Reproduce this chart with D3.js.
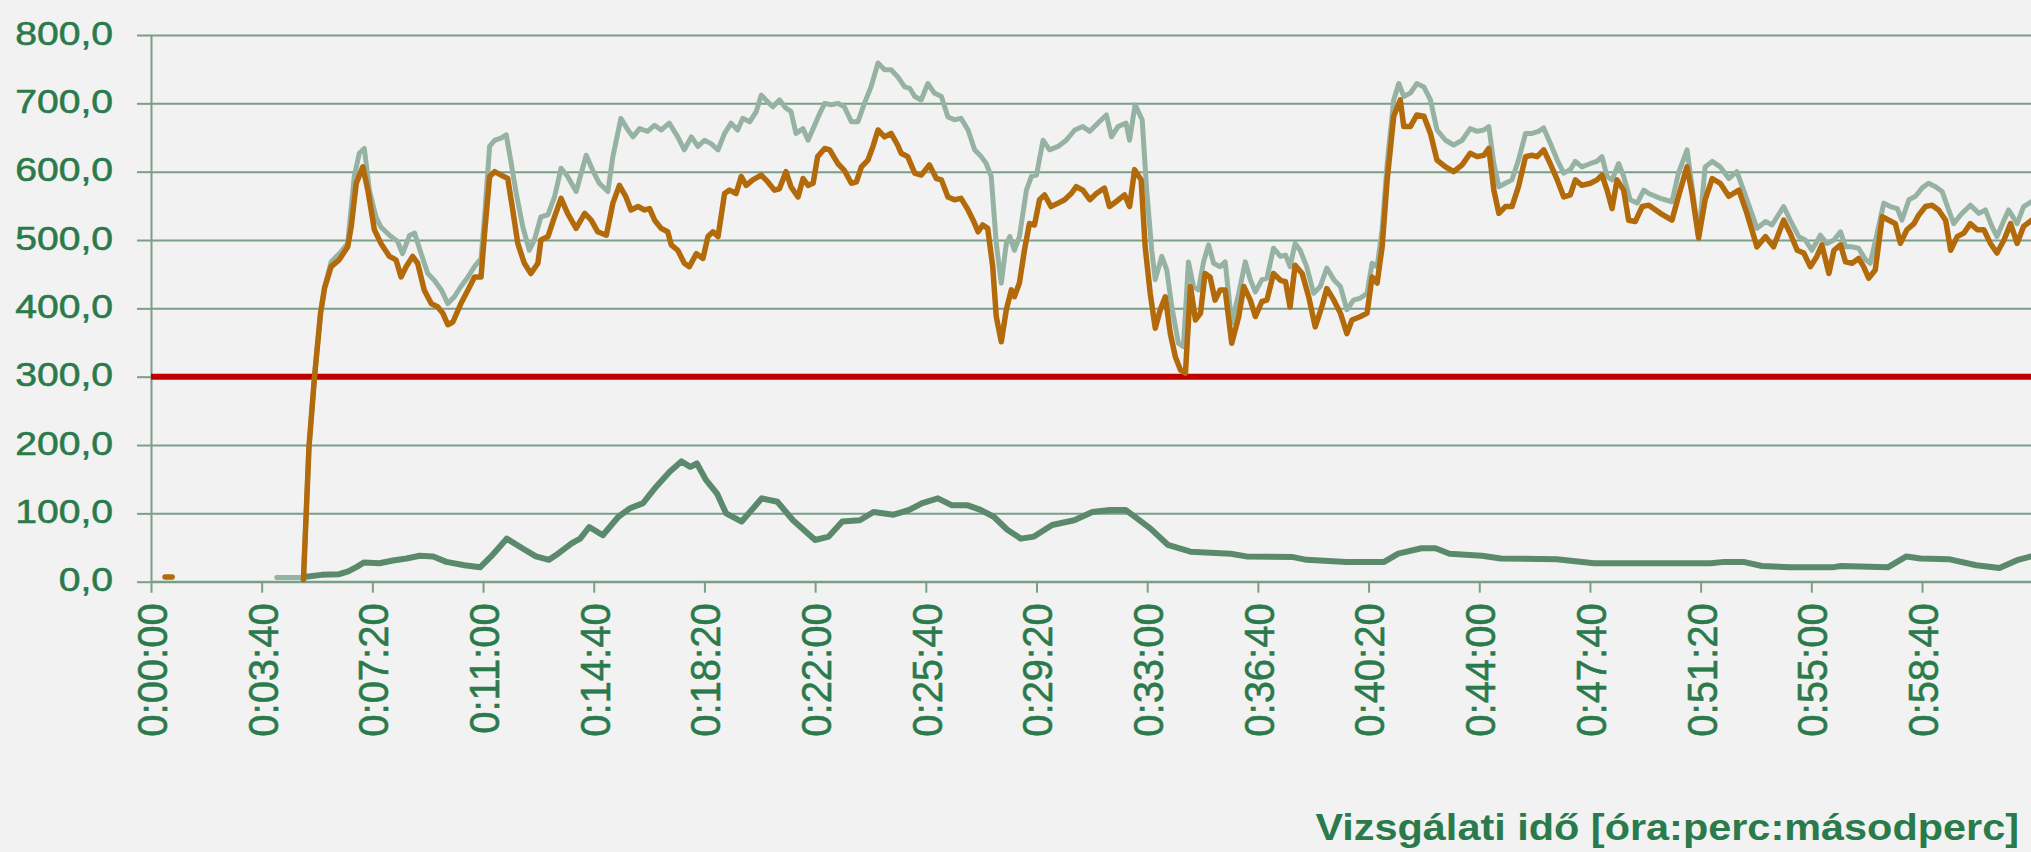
<!DOCTYPE html>
<html>
<head>
<meta charset="utf-8">
<script src="https://cdn.jsdelivr.net/npm/d3@7"></script>
<style>
  html, body { margin: 0; padding: 0; background: #f2f2f2; overflow: hidden; }
  svg { display: block; }
</style>
</head>
<body>
<svg id="chart" width="2031" height="852"></svg>
<script>
// y axis ticks and the limit line
const yTicks = [0, 100, 200, 300, 400, 500, 600, 700, 800];
const limitValue = 300;

// x axis tick labels (every 220 s)
const xTickLabels = [
  '0:00:00', '0:03:40', '0:07:20', '0:11:00', '0:14:40', '0:18:20', '0:22:00',
  '0:25:40', '0:29:20', '0:33:00', '0:36:40', '0:40:20', '0:44:00', '0:47:40',
  '0:51:20', '0:55:00', '0:58:40'
];

const axisTitle = 'Vizsgálati idő [óra:perc:másodperc]';

// series as [seconds, value]; null = no data
const orangeSeries = [
  [28,7],[42,7],[55,null],
  [303,3],[314,197],[325,300],[337,393],[345,430],[358,461],[374,471],[391,490],[398,520],[408,583],[421,607],[431,573],[444,515],[457,495],[474,476],[487,471],[497,446],[507,461],[520,476],[530,466],[543,427],[557,407],[570,402],[580,393],[590,376],[600,380],[616,407],[630,427],[643,446],[656,446],[663,510],[673,593],[683,600],[696,595],[709,590],[719,544],[729,495],[742,466],[755,451],[769,466],[775,500],[789,505],[802,534],[815,561],[828,539],[845,517],[862,539],[875,529],[888,512],[905,507],[918,554],[931,580],[944,563],[954,544],[968,549],[981,544],[991,546],[1001,529],[1014,517],[1027,512],[1034,493],[1047,485],[1060,466],[1070,461],[1084,480],[1097,473],[1107,505],[1117,512],[1127,505],[1140,568],[1150,573],[1163,568],[1173,593],[1183,580],[1196,588],[1213,595],[1226,585],[1239,573],[1249,575],[1262,600],[1272,578],[1286,563],[1296,590],[1306,580],[1316,583],[1325,622],[1339,634],[1349,632],[1365,612],[1378,602],[1392,583],[1402,585],[1412,607],[1425,617],[1435,637],[1445,661],[1458,651],[1471,656],[1484,639],[1491,627],[1504,622],[1518,598],[1531,595],[1547,610],[1561,590],[1571,588],[1584,563],[1597,559],[1610,561],[1624,544],[1634,529],[1644,512],[1653,522],[1663,517],[1673,461],[1680,388],[1690,351],[1700,398],[1710,427],[1716,417],[1726,437],[1736,485],[1746,524],[1756,522],[1766,559],[1776,566],[1789,549],[1803,554],[1816,559],[1829,568],[1839,578],[1852,573],[1866,559],[1879,568],[1895,576],[1905,549],[1918,556],[1935,566],[1945,549],[1955,603],[1968,588],[1976,490],[1986,422],[1996,371],[2006,398],[2016,417],[2026,363],[2036,329],[2046,310],[2056,305],[2066,432],[2076,383],[2086,393],[2095,451],[2105,446],[2115,412],[2125,427],[2135,427],[2148,349],[2162,388],[2172,432],[2185,412],[2195,388],[2208,410],[2218,412],[2231,451],[2245,441],[2255,439],[2264,402],[2274,463],[2288,451],[2301,417],[2314,373],[2327,402],[2337,429],[2351,412],[2364,393],[2377,363],[2387,383],[2404,388],[2417,393],[2427,446],[2437,437],[2447,490],[2457,588],[2470,681],[2483,705],[2490,666],[2503,666],[2516,683],[2530,681],[2543,656],[2556,617],[2573,607],[2589,600],[2606,610],[2622,627],[2636,622],[2649,624],[2659,634],[2669,573],[2679,539],[2692,549],[2705,549],[2718,578],[2732,622],[2745,624],[2755,622],[2768,632],[2781,612],[2795,588],[2808,563],[2821,566],[2831,588],[2844,580],[2861,583],[2874,588],[2884,595],[2894,573],[2904,546],[2914,588],[2927,573],[2937,529],[2950,527],[2964,549],[2977,551],[3000,539],[3023,529],[3036,564],[3053,607],[3063,568],[3076,503],[3089,559],[3103,590],[3119,583],[3136,564],[3156,573],[3172,539],[3192,490],[3209,505],[3225,490],[3245,529],[3258,510],[3272,485],[3285,481],[3298,461],[3311,476],[3321,493],[3335,451],[3345,485],[3358,493],[3368,468],[3381,466],[3394,473],[3404,461],[3414,444],[3427,456],[3441,534],[3454,529],[3467,524],[3477,495],[3490,515],[3504,524],[3514,537],[3527,549],[3540,551],[3553,544],[3567,529],[3577,485],[3590,505],[3603,510],[3616,524],[3630,515],[3643,515],[3656,495],[3669,481],[3683,500],[3696,524],[3709,495],[3722,520],[3738,529]
];

const graySeries = [
  [250,6],[303,6],[314,197],[325,300],[337,393],[345,430],[358,468],[378,483],[391,495],[404,593],[414,627],[424,634],[434,573],[447,534],[457,519],[474,507],[490,498],[500,480],[514,507],[524,510],[537,480],[550,451],[563,441],[577,427],[590,407],[603,417],[616,432],[630,446],[643,461],[656,473],[663,534],[673,637],[683,646],[696,649],[706,654],[716,612],[726,568],[739,519],[752,485],[762,500],[775,534],[789,537],[802,563],[815,605],[828,593],[845,571],[865,624],[878,602],[891,583],[908,571],[918,622],[934,678],[948,661],[958,651],[971,663],[987,659],[1001,668],[1014,661],[1030,671],[1047,651],[1060,632],[1074,651],[1087,637],[1100,646],[1113,641],[1127,632],[1140,656],[1153,671],[1166,661],[1176,678],[1190,673],[1203,688],[1213,712],[1226,702],[1236,695],[1249,705],[1262,693],[1272,688],[1282,656],[1296,663],[1306,646],[1319,668],[1329,685],[1339,700],[1352,698],[1365,700],[1378,695],[1392,673],[1405,673],[1418,700],[1431,724],[1445,759],[1458,749],[1471,749],[1484,739],[1498,724],[1508,722],[1518,710],[1531,705],[1544,729],[1557,715],[1571,710],[1584,680],[1597,676],[1610,678],[1624,661],[1637,632],[1650,622],[1660,612],[1670,593],[1680,495],[1690,437],[1700,495],[1707,505],[1716,485],[1726,505],[1740,573],[1750,593],[1760,595],[1773,646],[1786,632],[1803,637],[1819,646],[1836,661],[1852,666],[1866,659],[1882,671],[1899,683],[1909,651],[1922,666],[1938,671],[1945,646],[1956,698],[1970,676],[1979,573],[1989,485],[1996,442],[2009,476],[2019,456],[2029,402],[2042,349],[2052,344],[2062,468],[2072,432],[2082,427],[2092,468],[2102,493],[2112,466],[2125,461],[2135,468],[2148,378],[2162,422],[2175,468],[2185,442],[2195,424],[2208,442],[2218,444],[2231,488],[2245,476],[2255,478],[2264,461],[2274,495],[2284,485],[2297,461],[2311,422],[2324,432],[2337,459],[2351,442],[2364,432],[2377,398],[2390,412],[2404,415],[2417,422],[2427,466],[2437,461],[2447,515],[2457,612],[2470,705],[2480,729],[2490,710],[2503,715],[2516,729],[2530,724],[2543,705],[2556,661],[2573,646],[2589,639],[2606,646],[2622,663],[2636,659],[2649,661],[2659,666],[2669,612],[2679,578],[2692,583],[2705,588],[2718,617],[2732,656],[2745,656],[2758,659],[2768,664],[2781,642],[2795,617],[2808,598],[2821,603],[2831,615],[2844,607],[2861,612],[2874,615],[2884,622],[2894,593],[2904,588],[2917,612],[2927,593],[2940,559],[2954,554],[2967,573],[2977,568],[3000,561],[3023,556],[3036,598],[3053,632],[3063,578],[3076,505],[3089,607],[3103,615],[3119,607],[3136,590],[3152,600],[3172,559],[3192,517],[3209,527],[3222,522],[3245,549],[3258,529],[3275,505],[3288,500],[3301,485],[3318,507],[3331,495],[3345,500],[3358,512],[3368,490],[3381,490],[3394,488],[3408,471],[3417,466],[3431,510],[3444,554],[3457,549],[3471,546],[3480,529],[3494,559],[3507,564],[3520,576],[3533,583],[3547,578],[3560,571],[3573,544],[3583,524],[3597,537],[3616,551],[3633,539],[3646,544],[3659,520],[3669,505],[3683,529],[3692,544],[3709,524],[3722,549],[3738,556]
];

const greenSeries = [
  [303,7],[339,10],[374,11],[392,15],[410,22],[423,28],[454,27],[481,31],[508,34],[534,38],[561,37],[587,29],[623,24],[654,21],[676,37],[707,63],[738,49],[765,37],[791,32],[809,41],[836,56],[853,63],[871,80],[898,68],[929,95],[951,107],[978,115],[1004,139],[1031,161],[1054,176],[1072,168],[1085,173],[1103,149],[1125,129],[1143,100],[1174,88],[1214,122],[1245,117],[1276,90],[1320,61],[1347,66],[1374,88],[1409,90],[1436,102],[1476,98],[1507,105],[1533,115],[1564,122],[1591,112],[1622,112],[1649,105],[1675,95],[1702,76],[1729,63],[1755,66],[1791,83],[1835,90],[1871,102],[1906,105],[1937,105],[1959,93],[1986,78],[2021,54],[2066,44],[2146,41],[2177,37],[2270,36],[2297,32],[2376,29],[2451,29],[2479,41],[2525,49],[2553,49],[2581,41],[2645,38],[2683,34],[2794,33],[2868,27],[3100,27],[3127,29],[3165,29],[3202,23],[3257,21],[3341,21],[3359,23],[3452,21],[3489,37],[3517,34],[3573,33],[3628,24],[3674,20],[3711,32],[3737,37]
];

const colors = {
  text: '#2b7a4b',
  grid: '#7a9e88',
  gray: '#96b2a2',
  orange: '#b26a0b',
  green: '#5a8a6b',
  limit: '#c00000'
};

const W = 2031;
const fontFamily = '"Liberation Sans", Arial, sans-serif';
const svg = d3.select('#chart');

function toSeconds(label) {
  const p = label.split(':').map(Number);
  return p[0] * 3600 + p[1] * 60 + p[2];
}
const xTickSeconds = xTickLabels.map(toSeconds);

const x = d3.scaleLinear().domain([0, 3520]).range([151, 1922]);
const y = d3.scaleLinear().domain([0, 800]).range([581.7, 35]);

const huLocale = d3.formatLocale({ decimal: ',', thousands: ' ', grouping: [3], currency: ['', ''] });
const fmtY = huLocale.format('.1f');

// horizontal gridlines
const grid = svg.append('g')
  .attr('transform', `translate(${x(0)},0)`)
  .call(d3.axisLeft(y).tickValues(yTicks).tickSize(-(W - x(0))).tickSizeOuter(0).tickFormat(''));
grid.select('.domain').remove();
grid.selectAll('line').attr('stroke', colors.grid).attr('stroke-width', 2);

// y axis with labels
const yAxis = svg.append('g')
  .attr('transform', `translate(${x(0)},0)`)
  .call(d3.axisLeft(y).tickValues(yTicks).tickSize(14).tickSizeOuter(0).tickFormat(fmtY));
yAxis.select('.domain').attr('stroke', colors.grid).attr('stroke-width', 2);
yAxis.selectAll('line').attr('stroke', colors.grid).attr('stroke-width', 2);
const yStretch = 1.15;
yAxis.selectAll('text')
  .attr('x', -38 / yStretch)
  .attr('y', 9)
  .attr('dy', 0)
  .attr('transform', `scale(${yStretch},1)`)
  .attr('fill', colors.text)
  .attr('stroke', colors.text)
  .attr('stroke-width', 0.6)
  .style('font-family', fontFamily)
  .style('font-size', '34px');

// x axis
const xAxis = svg.append('g')
  .attr('transform', `translate(0,${y(0)})`)
  .call(d3.axisBottom(x).tickValues(xTickSeconds).tickSize(11).tickSizeOuter(0)
    .tickFormat((d, i) => xTickLabels[i]));
xAxis.select('.domain').attr('d', `M${x(0)},0H${W}`).attr('stroke', colors.grid).attr('stroke-width', 2);
xAxis.selectAll('line').attr('stroke', colors.grid).attr('stroke-width', 2);
xAxis.selectAll('text')
  .attr('x', 0)
  .attr('y', 0)
  .attr('dy', '0.36em')
  .attr('text-anchor', 'end')
  .attr('transform', 'translate(0,21.6) scale(1.07,1) rotate(-90)')
  .attr('fill', colors.text)
  .attr('stroke', colors.text)
  .attr('stroke-width', 0.5)
  .style('font-family', fontFamily)
  .style('font-size', '40px');

// limit line
svg.append('line')
  .attr('x1', x(0)).attr('x2', W)
  .attr('y1', y(limitValue)).attr('y2', y(limitValue))
  .attr('stroke', colors.limit)
  .attr('stroke-width', 6);

const line = d3.line()
  .defined(d => d[1] !== null)
  .x(d => x(d[0]))
  .y(d => y(d[1]));

const seriesList = [
  { data: greenSeries, color: colors.green, width: 6 },
  { data: graySeries, color: colors.gray, width: 5 },
  { data: orangeSeries, color: colors.orange, width: 5.5 }
];

svg.append('g').selectAll('path')
  .data(seriesList)
  .join('path')
  .attr('d', s => line(s.data))
  .attr('fill', 'none')
  .attr('stroke', s => s.color)
  .attr('stroke-width', s => s.width)
  .attr('stroke-linejoin', 'round')
  .attr('stroke-linecap', 'round');

// axis title
const tStretch = 1.12;
svg.append('text')
  .attr('x', 2019 / tStretch)
  .attr('y', 840)
  .attr('text-anchor', 'end')
  .attr('transform', `scale(${tStretch},1)`)
  .attr('fill', colors.text)
  .style('font-family', fontFamily)
  .style('font-weight', 'bold')
  .style('font-size', '37px')
  .text(axisTitle);
</script>
</body>
</html>
